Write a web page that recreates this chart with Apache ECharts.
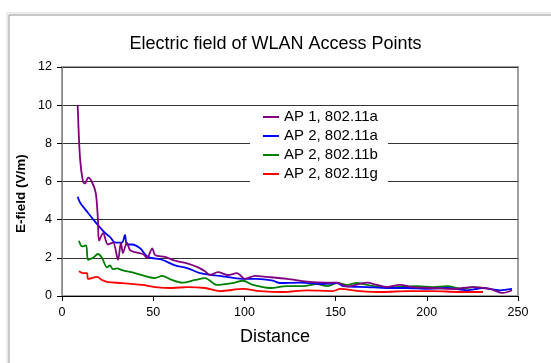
<!DOCTYPE html>
<html>
<head>
<meta charset="utf-8">
<script src="https://cdn.jsdelivr.net/npm/echarts@6/dist/echarts.min.js"></script>
<style>
  html, body { margin: 0; padding: 0; background: #fff; }
  #chart { width: 551px; height: 363px; }
</style>
</head>
<body>
<div id="chart"></div>
<script>
  // [distance, E-field] pairs
  var ap1a = [[8.6, 10.0], [9.9, 7.2], [11.5, 6.0], [12.6, 5.9], [14.3, 6.2], [16.3, 6.0], [18.5, 5.4], [19.7, 4.0],
    [20.3, 2.9], [22.5, 3.3], [25.2, 2.7], [28, 2.8], [30.7, 1.9], [32.3, 2.8], [33.4, 2.25], [35.6, 2.8], [37.3, 2.4],
    [40, 2.3], [44.4, 2.2], [46.6, 2.0], [49.5, 2.5], [51, 2.15], [56.5, 2.05], [62, 1.85], [69, 1.7], [74.6, 1.5],
    [78.4, 1.3], [81.1, 1.1], [85.5, 1.25], [91, 1.1], [95.9, 1.2], [100.3, 0.9], [105.8, 1.05], [112.4, 1.0],
    [123.4, 0.9], [134.3, 0.75], [145.3, 0.7], [150.8, 0.7], [156.3, 0.5], [167.2, 0.7], [172.7, 0.58], [178.2, 0.47],
    [185.3, 0.58], [192.4, 0.47], [203.4, 0.42], [214.4, 0.37], [225.3, 0.47], [234.6, 0.37], [241.8, 0.16], [246.7, 0.3]]
  var ap2a = [[8.6, 5.2], [9.9, 4.9], [14.3, 4.35], [18.1, 3.9], [20.8, 3.6], [23.6, 3.3], [26.3, 3.1], [29.1, 2.8],
    [32.9, 2.8], [34.5, 3.2], [35.6, 2.7], [38.4, 2.7], [42.8, 2.5], [47.1, 2.05], [54.8, 1.9], [62, 1.6], [69, 1.45],
    [75.7, 1.2], [86.6, 1.05], [99.2, 0.9], [106.9, 0.9], [115.7, 0.8], [119.5, 0.68], [130.5, 0.7], [143.1, 0.63],
    [150.8, 0.68], [154.1, 0.52], [167.2, 0.47], [178.2, 0.42], [189.1, 0.42], [200.1, 0.37], [211.1, 0.42],
    [222, 0.3], [230.8, 0.42], [240.1, 0.3], [246.7, 0.37]]
  var ap2b = [[9.3, 2.9], [11, 2.6], [13.2, 2.65], [14.3, 1.9], [17, 2.0], [19.7, 2.2], [21.9, 2.0], [24.7, 1.5],
    [26.3, 1.6], [28, 1.4], [30.2, 1.45], [32.9, 1.35], [40, 1.2], [47.1, 1.0], [51, 0.94], [54.8, 1.05], [60.3, 0.84],
    [65.8, 0.7], [72.9, 0.84], [78.4, 0.94], [85, 0.58], [93.8, 0.68], [99.2, 0.8], [104.7, 0.58], [114, 0.42],
    [123.4, 0.52], [132.1, 0.52], [139.8, 0.63], [145.3, 0.52], [150.8, 0.68], [156.3, 0.58], [161.7, 0.68],
    [170.5, 0.52], [181.5, 0.47], [194.6, 0.52], [203.4, 0.47], [211.1, 0.52], [219.8, 0.37], [225.3, 0.47], [230.8, 0.42]]
  var ap2g = [[9.3, 1.3], [11.5, 1.2], [13.7, 1.2], [14.3, 0.9], [19.2, 1.0], [21.9, 0.84], [25.2, 0.73], [32.9, 0.68],
    [43.9, 0.58], [51, 0.47], [60.3, 0.42], [69, 0.47], [78.4, 0.42], [86.6, 0.26], [99.2, 0.37], [108.6, 0.26],
    [121.2, 0.21], [134.3, 0.3], [148.6, 0.26], [152.4, 0.37], [163.4, 0.26], [176, 0.21], [189.1, 0.26],
    [203.4, 0.26], [218.2, 0.21], [230.8, 0.21]]

  var seriesNames = ['AP 1, 802.11a', 'AP 2, 802.11a', 'AP 2, 802.11b', 'AP 2, 802.11g']
  var seriesData = [ap1a, ap2a, ap2b, ap2g]
  var colors = ['#800080', '#0000ff', '#008000', '#ff0000']

  var font = "'Liberation Sans', Arial, sans-serif"
  var chart = echarts.init(document.getElementById('chart'))

  chart.setOption({
    animation: false,
    textStyle: { fontFamily: font },
    title: {
      text: 'Electric field of WLAN Access Points',
      left: 'center',
      top: 30,
      textStyle: { fontFamily: font, fontSize: 18, fontWeight: 'normal', color: '#000' }
    },
    grid: {
      left: 62, right: 33, top: 67, bottom: 67,
      show: true,
      borderColor: '#a0a0a0',
      borderWidth: 2
    },
    legend: {
      orient: 'vertical',
      left: 250,
      top: 106,
      padding: [3, 10, 5, 13],
      backgroundColor: '#fff',
      icon: 'rect',
      itemWidth: 16,
      itemHeight: 2,
      itemGap: 3,
      textStyle: { fontFamily: font, fontSize: 15, color: '#000', lineHeight: 16 },
      data: seriesNames
    },
    xAxis: {
      type: 'value',
      min: 0,
      max: 250,
      interval: 50,
      axisLine: { lineStyle: { color: '#000', width: 1 } },
      axisTick: { show: true, length: 5, lineStyle: { color: '#000' } },
      axisLabel: { fontFamily: font, fontSize: 12.5, color: '#000', margin: 10 },
      splitLine: { show: false }
    },
    yAxis: {
      type: 'value',
      min: 0,
      max: 12,
      interval: 2,
      axisLine: { show: true, lineStyle: { color: '#888', width: 1 } },
      axisTick: { show: true, length: 5, lineStyle: { color: '#000' } },
      axisLabel: { fontFamily: font, fontSize: 12.5, color: '#000', margin: 10 },
      splitLine: { show: true, lineStyle: { color: '#333', width: 1 } }
    },
    graphic: [
      { type: 'rect', shape: { x: 7, y: 13, width: 600, height: 400 }, style: { fill: 'none', stroke: '#d8d8d8', lineWidth: 1 }, silent: true },
      { type: 'rect', shape: { x: 9, y: 15, width: 600, height: 400 }, style: { fill: 'none', stroke: '#909090', lineWidth: 1 }, silent: true },
      { type: 'text', left: 240, top: 328, style: { text: 'Distance', font: '18px ' + font, fill: '#000' } },
      { type: 'text', x: 14, y: 233, rotation: Math.PI / 2, style: { text: 'E-field (V/m)', font: 'bold 13.5px ' + font, fill: '#000' } }
    ],
    series: seriesData.map(function (d, i) {
      return {
        name: seriesNames[i],
        type: 'line',
        data: d,
        smooth: 0.3,
        showSymbol: false,
        color: colors[i],
        lineStyle: { color: colors[i], width: 1.8 },
        z: 10 - i
      }
    })
  })
</script>
</body>
</html>
